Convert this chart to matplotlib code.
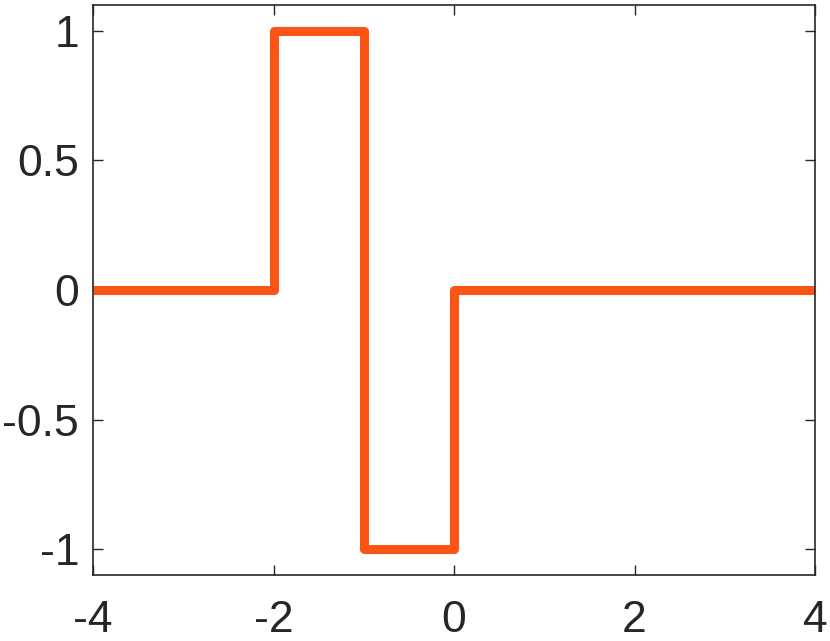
import matplotlib
matplotlib.use('Agg')
import matplotlib.pyplot as plt

# breakpoints of the piecewise-constant signal
x_pts = [-4, -2, -2, -1, -1, 0, 0, 4]
y_pts = [0, 0, 1, 1, -1, -1, 0, 0]

x_ticks = [-4, -2, 0, 2, 4]
y_ticks = [-1, -0.5, 0, 0.5, 1]
y_ticklabels = ['-1', '-0.5', '0', '0.5', '1']

plt.rcParams['font.family'] = ['Liberation Sans', 'DejaVu Sans']

fig = plt.figure(figsize=(8.3, 6.41), dpi=100)
ax = fig.add_axes([93/830, 1 - 575/641, (815-93)/830, (575-5)/641])

ax.plot(x_pts, y_pts, color='#FA5515', linewidth=6.5, solid_joinstyle='round', solid_capstyle='butt')

ax.set_xlim(-4, 4)
ax.set_ylim(-1.1, 1.1)
ax.set_xticks(x_ticks)
ax.set_xticklabels([str(v) for v in x_ticks])
ax.set_yticks(y_ticks)
ax.set_yticklabels(y_ticklabels)

ax.tick_params(direction='in', length=7, width=1, colors='#262626', labelsize=32,
               top=True, right=True)
ax.tick_params(axis='x', pad=18)
ax.tick_params(axis='y', pad=10)
for s in ax.spines.values():
    s.set_color('#262626')
    s.set_linewidth(1.2)

fig.savefig('out.png', dpi=100)
